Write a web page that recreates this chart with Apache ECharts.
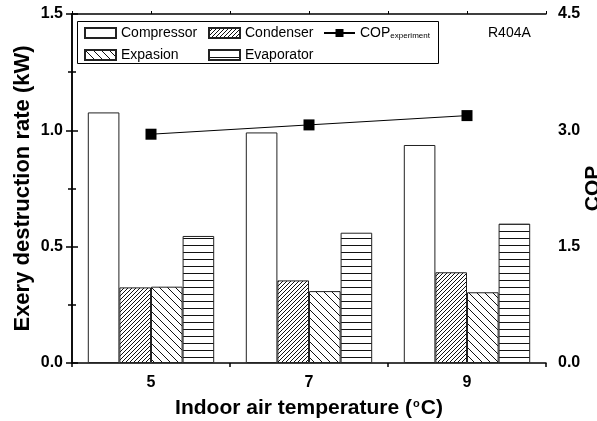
<!DOCTYPE html>
<html>
<head>
<meta charset="utf-8">
<script src="https://cdn.jsdelivr.net/npm/echarts@6/dist/echarts.min.js"></script>
<style>
    html, body { margin: 0; padding: 0; background: #fff; }
    #myChart { width: 597px; height: 421px; }
</style>
</head>
<body>
<div id="myChart"></div>
<script>
    // data
    var temperatures = ['5', '7', '9'];
    var compressor = [1.077, 0.991, 0.937];
    var condenser = [0.325, 0.355, 0.390];
    var expasion = [0.328, 0.309, 0.304];
    var evaporator = [0.546, 0.560, 0.599];
    var copExperiment = [2.95, 3.07, 3.19];
    var leftTicks = { min: 0, max: 1.5, interval: 0.5 };
    var rightTicks = { min: 0, max: 4.5, interval: 1.5 };

    var font = '"Liberation Sans", Arial, sans-serif';

    // hatch fill tiles
    function hatch(kind) {
        var c = document.createElement('canvas');
        var n = kind === 'slash' ? 4 : (kind === 'back' ? 8 : 7);
        c.width = n;
        c.height = n;
        var ctx = c.getContext('2d');
        ctx.fillStyle = '#fff';
        ctx.fillRect(0, 0, n, n);
        ctx.strokeStyle = '#111';
        ctx.lineWidth = 1;
        ctx.beginPath();
        if (kind === 'slash') {
            ctx.moveTo(0, n); ctx.lineTo(n, 0);
            ctx.moveTo(-1, 1); ctx.lineTo(1, -1);
            ctx.moveTo(n - 1, n + 1); ctx.lineTo(n + 1, n - 1);
        } else if (kind === 'back') {
            ctx.moveTo(0, 0); ctx.lineTo(n, n);
            ctx.moveTo(-1, n - 1); ctx.lineTo(1, n + 1);
            ctx.moveTo(n - 1, -1); ctx.lineTo(n + 1, 1);
        } else {
            ctx.moveTo(0, 0.5); ctx.lineTo(n, 0.5);
        }
        ctx.stroke();
        return { image: c, repeat: 'repeat' };
    }

    var myChart = echarts.init(document.getElementById('myChart'));

    var barStyle = function (fill) {
        return { color: fill, borderColor: '#222', borderWidth: 1 };
    };

    var legendText = { fontFamily: font, fontSize: 14, color: '#000',
        rich: { s: { fontFamily: font, fontSize: 8, verticalAlign: 'bottom', padding: [6, 0, 0, 0] } } };

    var legendBase = {
        orient: 'vertical',
        top: 26,
        itemWidth: 31,
        itemHeight: 10,
        itemGap: 8,
        padding: 0,
        textStyle: legendText
    };

    var tickLabel = { fontFamily: font, fontSize: 16, fontWeight: 'bold', color: '#000' };
    var nameStyle = { fontFamily: font, fontSize: 21, fontWeight: 'bold', color: '#000' };

    myChart.setOption({
        backgroundColor: '#fff',
        animation: false,
        textStyle: { fontFamily: font },
        title: {
            text: 'R404A',
            left: 488,
            top: 26,
            padding: 0,
            textStyle: { fontFamily: font, fontSize: 14, fontWeight: 'normal', color: '#000' }
        },
        legend: [
            Object.assign({ left: 84, icon: 'rect', data: ['Compressor', 'Expasion'] }, legendBase),
            Object.assign({ left: 208, icon: 'rect', data: ['Condenser', 'Evaporator'] }, legendBase),
            Object.assign({
                left: 323,
                data: ['COP'],
                formatter: function () { return 'COP{s|experiment}'; }
            }, legendBase)
        ],
        graphic: [{
            type: 'rect',
            shape: { x: 77.5, y: 21.5, width: 361, height: 42 },
            style: { fill: 'none', stroke: '#000', lineWidth: 1 },
            z: 10
        }],
        grid: { left: 72, right: 51, top: 14, bottom: 58, outerBoundsMode: 'none', containLabel: false },
        xAxis: [{
            type: 'category',
            data: temperatures,
            boundaryGap: true,
            axisLine: { lineStyle: { color: '#000', width: 1.5 } },
            axisTick: { alignWithLabel: true, length: 6, lineStyle: { color: '#000', width: 1.5 } },
            axisLabel: Object.assign({ margin: 12 }, tickLabel),
            name: 'Indoor air temperature ({sup|o}C)',
            nameLocation: 'middle',
            nameGap: 35,
            nameMoveOverlap: false,
            nameTextStyle: Object.assign({
                rich: { sup: { fontFamily: font, fontSize: 11, fontWeight: 'bold', verticalAlign: 'top', padding: [0, 1, 9, 1] } }
            }, nameStyle)
        }, {
            // boundary ticks under the bars
            type: 'value',
            min: 0,
            max: 3,
            interval: 1,
            position: 'bottom',
            axisLine: { show: false },
            axisTick: { show: true, length: 4, lineStyle: { color: '#000', width: 1.5 } },
            axisLabel: { show: false },
            splitLine: { show: false }
        }, {
            // top frame
            type: 'value',
            min: 0,
            max: 3,
            interval: 0.5,
            position: 'top',
            axisLine: { lineStyle: { color: '#000', width: 1.5 } },
            axisTick: { show: true, length: 3, lineStyle: { color: '#000', width: 1 } },
            axisLabel: { show: false },
            splitLine: { show: false }
        }],
        yAxis: [{
            type: 'value',
            min: leftTicks.min,
            max: leftTicks.max,
            interval: leftTicks.interval,
            position: 'left',
            axisLine: { show: true, lineStyle: { color: '#000', width: 1.5 } },
            axisTick: { show: true, length: 6, lineStyle: { color: '#000', width: 1.5 } },
            minorTick: { show: true, splitNumber: 2, length: 4, lineStyle: { color: '#000', width: 1.5 } },
            axisLabel: Object.assign({ margin: 9, formatter: function (v) { return v.toFixed(1); } }, tickLabel),
            splitLine: { show: false },
            name: 'Exery destruction rate (kW)',
            nameLocation: 'middle',
            nameGap: 38,
            nameMoveOverlap: false,
            nameRotate: 90,
            nameTextStyle: Object.assign({}, nameStyle, { fontSize: 22 })
        }, {
            type: 'value',
            min: rightTicks.min,
            max: rightTicks.max,
            interval: rightTicks.interval,
            position: 'right',
            axisLine: { show: true, lineStyle: { color: '#000', width: 1.5 } },
            axisTick: { show: true, length: 6, lineStyle: { color: '#000', width: 1.5 } },
            minorTick: { show: true, splitNumber: 2, length: 4, lineStyle: { color: '#000', width: 1.5 } },
            axisLabel: Object.assign({ margin: 12, formatter: function (v) { return v.toFixed(1); } }, tickLabel),
            splitLine: { show: false },
            name: 'COP',
            nameLocation: 'middle',
            nameGap: 37,
            nameMoveOverlap: false,
            nameRotate: 90,
            nameTextStyle: nameStyle
        }],
        series: [{
            name: 'Compressor',
            type: 'bar',
            data: compressor,
            barGap: '0%',
            barCategoryGap: '20%',
            itemStyle: barStyle('#fff')
        }, {
            name: 'Condenser',
            type: 'bar',
            data: condenser,
            itemStyle: barStyle(hatch('slash'))
        }, {
            name: 'Expasion',
            type: 'bar',
            data: expasion,
            itemStyle: barStyle(hatch('back'))
        }, {
            name: 'Evaporator',
            type: 'bar',
            data: evaporator,
            itemStyle: barStyle(hatch('horiz'))
        }, {
            name: 'COP',
            type: 'line',
            yAxisIndex: 1,
            data: copExperiment,
            symbol: 'rect',
            symbolSize: 11,
            itemStyle: { color: '#000' },
            lineStyle: { color: '#000', width: 1 },
            z: 5
        }]
    });
</script>
</body>
</html>
